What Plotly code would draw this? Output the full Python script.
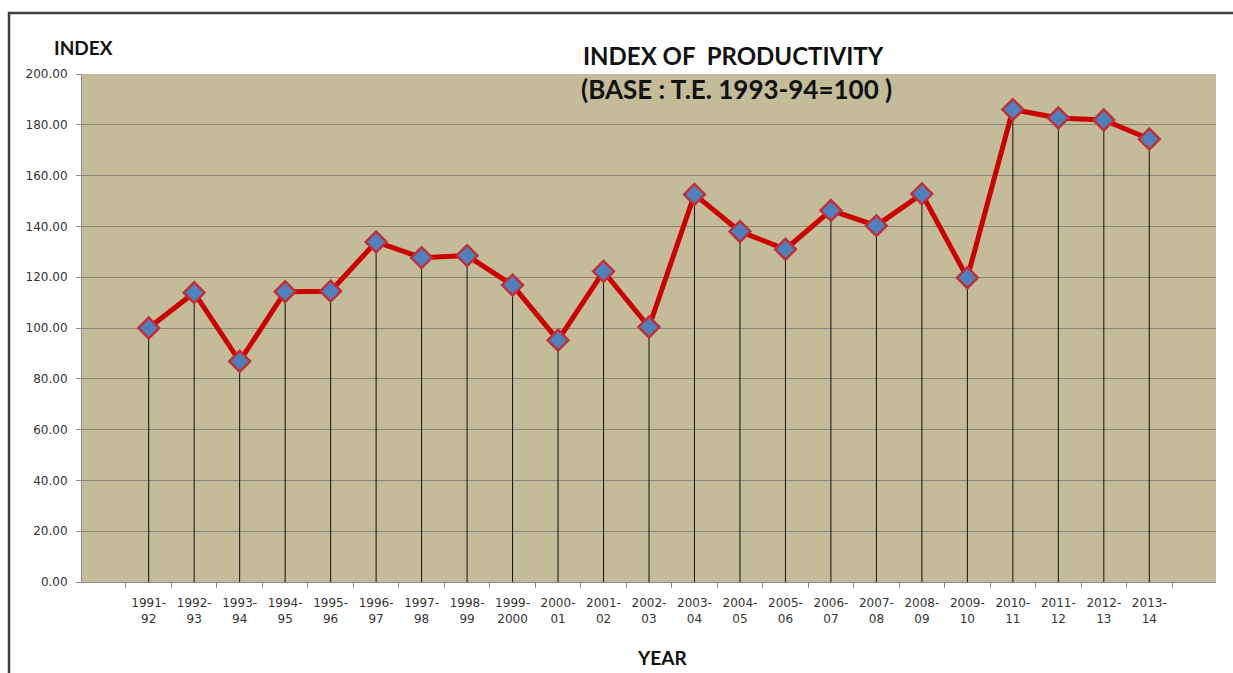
import plotly.graph_objects as go

years = ["1991-<br>92", "1992-<br>93", "1993-<br>94", "1994-<br>95", "1995-<br>96",
         "1996-<br>97", "1997-<br>98", "1998-<br>99", "1999-<br>2000", "2000-<br>01",
         "2001-<br>02", "2002-<br>03", "2003-<br>04", "2004-<br>05", "2005-<br>06",
         "2006-<br>07", "2007-<br>08", "2008-<br>09", "2009-<br>10", "2010-<br>11",
         "2011-<br>12", "2012-<br>13", "2013-<br>14"]
index_values = [100.0, 113.9, 86.9, 114.3, 114.5, 133.9, 127.7, 128.5, 116.9, 95.2,
                122.3, 100.4, 152.6, 138.0, 131.0, 146.3, 140.3, 152.8, 119.8, 186.0,
                182.7, 181.9, 174.4]
y_ticks = [0, 20, 40, 60, 80, 100, 120, 140, 160, 180, 200]

W, H = 1233, 673
ML, MR, MT, MB = 82, 17, 74, 91
pw, ph = W - ML - MR, H - MT - MB

def px_to_paper_x(px):
    return (px - ML) / pw

def px_to_paper_y(py):
    return (H - MB - py) / ph

fig = go.Figure()
fig.add_trace(go.Scatter(
    x=years, y=index_values, mode="lines+markers",
    line=dict(color="#CC0000", width=5),
    marker=dict(symbol="diamond", size=16, color="#4F81BD",
                line=dict(color="#C0303A", width=2.5)),
    error_y=dict(type="data", symmetric=False,
                 array=[0] * len(index_values), arrayminus=index_values,
                 color="#111111", thickness=1, width=0),
    showlegend=False, hoverinfo="x+y",
))

tick_font = dict(family="DejaVu Sans", size=12, color="#333333")
fig.update_layout(
    width=W, height=H,
    margin=dict(l=ML, r=MR, t=MT, b=MB),
    paper_bgcolor="white", plot_bgcolor="#C4BB98",
    xaxis=dict(type="category", tickfont=tick_font, showgrid=False,
               showline=True, linecolor="#8c8c8c", linewidth=1,
               ticks="outside", ticklen=5, tickcolor="#8c8c8c",
               tickson="boundaries", ticklabelstandoff=10,
               zeroline=False, fixedrange=True),
    yaxis=dict(range=[0, 200], tickvals=y_ticks, tickformat=".2f",
               tickfont=tick_font, showgrid=True, gridcolor="#8a8478", gridwidth=1,
               showline=True, linecolor="#8c8c8c", linewidth=1,
               ticks="outside", ticklen=5, tickcolor="#8c8c8c",
               ticklabelstandoff=6,
               zeroline=False, fixedrange=True),
    shapes=[dict(type="rect", xref="paper", yref="paper",
                 x0=px_to_paper_x(9), x1=px_to_paper_x(1245),
                 y0=px_to_paper_y(690), y1=px_to_paper_y(13),
                 line=dict(color="#404040", width=2.5), fillcolor="rgba(0,0,0,0)",
                 layer="above")],
    annotations=[
        dict(text="<b>INDEX OF  PRODUCTIVITY</b>", xref="paper", yref="paper",
             x=px_to_paper_x(581), y=px_to_paper_y(55), xanchor="left", yanchor="middle",
             showarrow=False, font=dict(family="Lato", size=24, color="#111111")),
        dict(text="<b>(BASE : T.E. 1993-94=100 )</b>", xref="paper", yref="paper",
             x=px_to_paper_x(579), y=px_to_paper_y(89), xanchor="left", yanchor="middle",
             showarrow=False, font=dict(family="Lato", size=26, color="#111111")),
        dict(text="<b>INDEX</b>", xref="paper", yref="paper",
             x=px_to_paper_x(52), y=px_to_paper_y(47), xanchor="left", yanchor="middle",
             showarrow=False, font=dict(family="Lato", size=19, color="#111111")),
        dict(text="<b>YEAR</b>", xref="paper", yref="paper",
             x=px_to_paper_x(662), y=px_to_paper_y(657), xanchor="center", yanchor="middle",
             showarrow=False, font=dict(family="Lato", size=19, color="#111111")),
    ],
)
fig.write_html("out.html", config={"displayModeBar": False},
               post_script="document.body.style.margin='0';")
